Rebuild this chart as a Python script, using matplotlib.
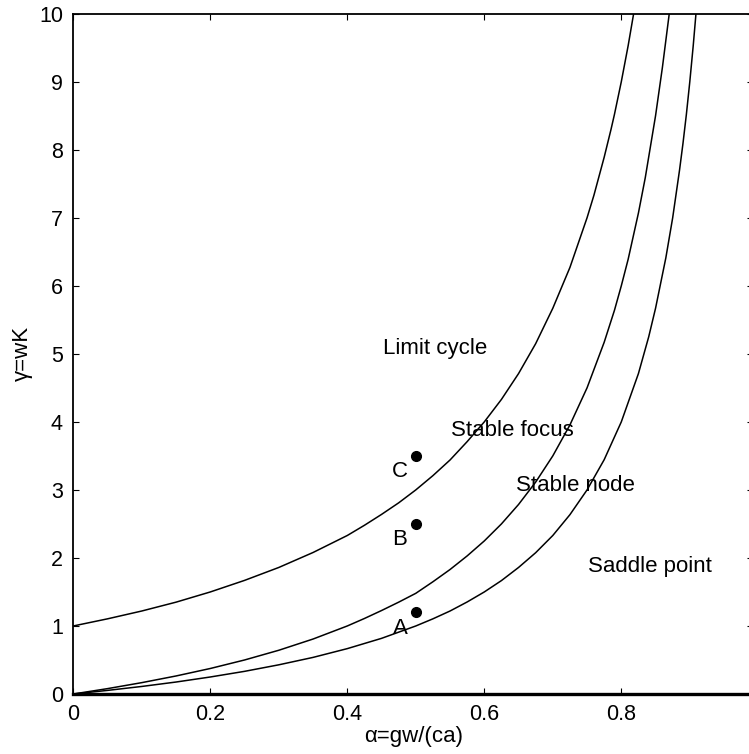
import matplotlib
matplotlib.use("Agg")
import matplotlib.pyplot as plt
import numpy as np

# boundary curves (alpha, gamma)
hopf_alpha = [0.0, 0.05, 0.1, 0.15, 0.2, 0.25, 0.3, 0.35, 0.4, 0.425, 0.45, 0.475, 0.5, 0.525,
              0.55, 0.575, 0.6, 0.625, 0.65, 0.675, 0.7, 0.725, 0.75, 0.76, 0.775, 0.785,
              0.79, 0.8, 0.81, 0.818]
hopf_gamma = [1.0, 1.105, 1.22, 1.35, 1.5, 1.67, 1.86, 2.08, 2.33, 2.48, 2.64, 2.81, 3.0, 3.21,
              3.44, 3.71, 4.0, 4.33, 4.71, 5.15, 5.67, 6.27, 7.0, 7.33, 7.89, 8.30,
              8.52, 9.0, 9.53, 10.0]

node_alpha = [0.0, 0.05, 0.1, 0.15, 0.2, 0.25, 0.3, 0.35, 0.4, 0.425, 0.45, 0.475, 0.5, 0.525,
              0.55, 0.575, 0.6, 0.625, 0.65, 0.675, 0.7, 0.725, 0.75, 0.775, 0.79, 0.8,
              0.81, 0.825, 0.835, 0.85, 0.86, 0.87]
node_gamma = [0.0, 0.079, 0.167, 0.265, 0.375, 0.5, 0.643, 0.808, 1.0, 1.11, 1.227, 1.35, 1.48, 1.65,
              1.83, 2.03, 2.25, 2.5, 2.786, 3.115, 3.5, 3.955, 4.5, 5.17, 5.64, 6.0,
              6.39, 7.07, 7.59, 8.5, 9.21, 10.0]

saddle_alpha = [0.0, 0.05, 0.1, 0.15, 0.2, 0.25, 0.3, 0.35, 0.4, 0.45, 0.5, 0.525, 0.55, 0.575,
                0.6, 0.625, 0.65, 0.675, 0.7, 0.725, 0.75, 0.775, 0.8, 0.825, 0.84, 0.85,
                0.865, 0.875, 0.885, 0.89, 0.895, 0.9, 0.905, 0.909]
saddle_gamma = [0.0, 0.053, 0.111, 0.176, 0.25, 0.333, 0.429, 0.538, 0.667, 0.818, 1.0, 1.105, 1.22, 1.353,
                1.5, 1.667, 1.86, 2.077, 2.33, 2.636, 3.0, 3.444, 4.0, 4.71, 5.25, 5.67,
                6.41, 7.0, 7.70, 8.09, 8.52, 9.0, 9.53, 10.0]

# marked parameter points
point_names = ["A", "B", "C"]
point_alpha = [0.5, 0.5, 0.5]
point_gamma = [1.2, 2.5, 3.5]

# region labels
region_names = ["Limit cycle", "Stable focus", "Stable node", "Saddle point"]
region_alpha = [0.452, 0.552, 0.647, 0.752]
region_gamma = [5.08, 3.88, 3.07, 1.87]

plt.rcParams['font.family'] = ['Liberation Sans', 'DejaVu Sans']

fig = plt.figure(figsize=(7.49, 7.54), dpi=100)
W, H = 749, 754
x0, y0, y1 = 73.3, 694, 13.7
xmax = 0.992
ax = fig.add_axes([x0 / W, 1 - y0 / H, xmax * 685 / W, (y0 - y1) / H])

for a, g in [(hopf_alpha, hopf_gamma), (node_alpha, node_gamma), (saddle_alpha, saddle_gamma)]:
    ax.plot(a, g, color='black', lw=1.1, solid_joinstyle='round')

ax.plot(point_alpha, point_gamma, 'o', color='black', ms=7)
for name, a, g in zip(point_names, point_alpha, point_gamma):
    ax.text(a - 0.023, g - 0.23, name, fontsize=16, ha='center', va='center')

for name, a, g in zip(region_names, region_alpha, region_gamma):
    ax.text(a, g, name, fontsize=16, ha='left', va='center')

ax.set_xlim(0, xmax)
ax.set_ylim(0, 10)
ax.set_xticks([0, 0.2, 0.4, 0.6, 0.8])
ax.set_xticklabels(["0", "0.2", "0.4", "0.6", "0.8"])
ax.set_yticks(range(0, 11))
ax.tick_params(direction='in', length=4.3, width=0.8, top=True, right=True,
               labelsize=15.5, pad=7.5)

ax.spines['right'].set_visible(False)
ax.spines['left'].set_linewidth(1.3)
ax.spines['top'].set_linewidth(1.3)
ax.spines['bottom'].set_linewidth(2.4)

ax.set_xlabel("α=gw/(ca)", fontsize=16, labelpad=0)
ax.xaxis.set_label_coords(0.497 / xmax, -(726 - y0) / (y0 - y1))
ax.set_ylabel("γ=wK", fontsize=16)
ax.yaxis.set_label_coords(-(x0 - 33) / (xmax * 685), 0.5)

fig.savefig("out.png", dpi=100)
